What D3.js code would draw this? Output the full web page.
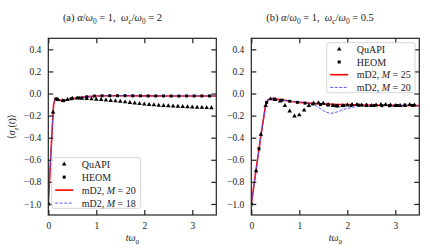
<!DOCTYPE html>
<html><head><meta charset="utf-8">
<script src="https://cdn.jsdelivr.net/npm/d3@7"></script>
<style>body{margin:0;background:#fff}svg{display:block} text{white-space:pre}</style>
</head><body>
<svg id="c" width="430" height="251"></svg>
<script>
// ---------- DATA ----------
const xTicks = [0, 1, 2, 3];
const yTicks = [-1.0, -0.8, -0.6, -0.4, -0.2, 0.0, 0.2, 0.4];

// Panel (a)
const tA_line = [0,0.03,0.06,0.083,0.11,0.14,0.18,0.25,0.33,0.4,0.5,0.6,0.7,0.85,1.0,1.3,1.6,2.0,2.5,3.0,3.5];
const redA    = [-1.0,-0.75,-0.5,-0.31,-0.1,-0.048,-0.05,-0.06,-0.065,-0.055,-0.045,-0.04,-0.035,-0.028,-0.022,-0.02,-0.02,-0.021,-0.022,-0.023,-0.022];
const blueA   = [-1.0,-0.74,-0.49,-0.3,-0.09,-0.047,-0.05,-0.06,-0.064,-0.055,-0.046,-0.04,-0.034,-0.027,-0.022,-0.021,-0.02,-0.022,-0.022,-0.022,-0.021];
const tA_quapi = [0,0.1,0.2,0.3,0.4,0.5,0.6,0.7,0.8,0.9,1.0,1.1,1.2,1.3,1.4,1.5,1.6,1.7,1.8,1.9,2.0,2.1,2.2,2.3,2.4,2.5,2.6,2.7,2.8,2.9,3.0,3.1,3.2,3.3,3.4];
const quapiA   = [-1.0,-0.17,-0.055,-0.065,-0.055,-0.045,-0.042,-0.045,-0.047,-0.05,-0.053,-0.056,-0.06,-0.064,-0.068,-0.072,-0.077,-0.082,-0.087,-0.092,-0.096,-0.1,-0.104,-0.107,-0.11,-0.113,-0.115,-0.117,-0.119,-0.121,-0.123,-0.125,-0.127,-0.129,-0.131];
const tA_heom = [0,0.16,0.32,0.48,0.64,0.8,0.96,1.12,1.28,1.44,1.6,1.76,1.92,2.08,2.24,2.4,2.56,2.72,2.88,3.04,3.2,3.36];
const heomA   = [-1.0,-0.048,-0.065,-0.047,-0.04,-0.03,-0.023,-0.021,-0.02,-0.02,-0.02,-0.021,-0.021,-0.022,-0.022,-0.022,-0.023,-0.023,-0.022,-0.022,-0.022,-0.022];

// Panel (b)
const tB_red = [0,0.1,0.2,0.3,0.35,0.42,0.5,0.6,0.7,0.85,1.0,1.2,1.4,1.6,1.8,2.0,2.3,2.6,3.0,3.5];
const redB   = [-1.0,-0.69,-0.38,-0.1,-0.055,-0.045,-0.048,-0.055,-0.062,-0.072,-0.08,-0.087,-0.092,-0.096,-0.099,-0.101,-0.104,-0.106,-0.108,-0.11];
const tB_blue = [0,0.1,0.2,0.3,0.35,0.42,0.5,0.6,0.7,0.85,1.0,1.1,1.2,1.3,1.4,1.5,1.6,1.7,1.8,1.9,2.0,2.2,2.4,2.7,3.0,3.5];
const blueB   = [-1.0,-0.7,-0.39,-0.11,-0.06,-0.047,-0.05,-0.057,-0.063,-0.07,-0.075,-0.08,-0.088,-0.1,-0.125,-0.155,-0.175,-0.178,-0.165,-0.148,-0.135,-0.118,-0.108,-0.103,-0.105,-0.11];
const tB_quapi = [0,0.1,0.2,0.3,0.4,0.5,0.6,0.7,0.8,0.9,1.0,1.1,1.2,1.3,1.4,1.5,1.6,1.7,1.8,1.9,2.0,2.1,2.2,2.3,2.4,2.5,2.6,2.7,2.8,2.9,3.0,3.1,3.2,3.3,3.4];
const quapiB   = [-1.0,-0.7,-0.37,-0.11,-0.05,-0.055,-0.07,-0.11,-0.16,-0.205,-0.195,-0.15,-0.11,-0.09,-0.085,-0.09,-0.1,-0.11,-0.115,-0.11,-0.105,-0.1,-0.1,-0.105,-0.11,-0.11,-0.105,-0.1,-0.1,-0.105,-0.11,-0.11,-0.105,-0.1,-0.105];
const tB_heom = [0,0.16,0.32,0.48,0.64,0.8,0.96,1.12,1.28,1.44,1.6,1.76,1.92,2.08,2.24,2.4,2.56,2.72,2.88,3.04,3.2,3.36];
const heomB   = [-1.0,-0.5,-0.08,-0.05,-0.06,-0.07,-0.08,-0.087,-0.095,-0.1,-0.105,-0.11,-0.11,-0.108,-0.105,-0.105,-0.108,-0.11,-0.11,-0.108,-0.107,-0.108];

const legendA = ["QuAPI", "HEOM", "mD2, M = 20", "mD2, M = 18"];
const legendB = ["QuAPI", "HEOM", "mD2, M = 25", "mD2, M = 20"];

// ---------- DRAW ----------
const svg = d3.select("#c");
const FONT = "'Liberation Serif', 'DejaVu Serif', serif";
const RED = "#ff0000", BLUE = "#5555ff", INK = "#222";

function math(t, parts, fs) {
  let sh = 0;
  parts.forEach(([txt, st]) => {
    const ts = t.append("tspan").text(txt);
    if (st.includes("i")) ts.attr("font-style", "italic");
    if (st.includes("s")) {
      ts.attr("font-size", fs * 0.7).attr("dy", fs * 0.3 - sh); sh = fs * 0.3;
    } else if (sh) { ts.attr("dy", -sh); sh = 0; }
  });
}

const y = d3.scaleLinear().domain([-1.1, 0.5]).range([215, 38.3]);

function panel(id, left, title, titleX, tQ, vQ, tH, vH, tR, vR, tBl, vBl, legendLabels, leg) {
  const x = d3.scaleLinear().domain([0, 3.5]).range([left, left + 168]);
  const g = svg.append("g");
  const cp = "clip" + id;
  svg.append("clipPath").attr("id", cp).append("rect")
    .attr("x", left).attr("y", 38.3).attr("width", 168).attr("height", 215 - 38.3);
  const plot = g.append("g").attr("clip-path", `url(#${cp})`);

  const line = d3.line().x(d => x(d[0])).y(d => y(d[1]));
  plot.append("path").datum(d3.zip(tR, vR)).attr("d", line)
    .attr("fill", "none").attr("stroke", RED).attr("stroke-width", 1.6);
  plot.append("path").datum(d3.zip(tBl, vBl)).attr("d", line)
    .attr("fill", "none").attr("stroke", BLUE).attr("stroke-width", 1.0)
    .attr("stroke-dasharray", "3,1.5");
  const tri = d3.symbol().type(d3.symbolTriangle).size(9);
  plot.selectAll(".q").data(d3.zip(tQ, vQ)).join("path")
    .attr("d", tri).attr("transform", d => `translate(${x(d[0])},${y(d[1])})`).attr("fill", "#000");
  plot.selectAll(".h").data(d3.zip(tH, vH)).join("rect")
    .attr("x", d => x(d[0]) - 1.5).attr("y", d => y(d[1]) - 1.5)
    .attr("width", 3).attr("height", 3).attr("fill", "#000");

  // frame + ticks
  g.append("rect").attr("x", left).attr("y", 38.3).attr("width", 168).attr("height", 215 - 38.3)
    .attr("fill", "none").attr("stroke", INK).attr("stroke-width", 1.2);
  const gb = g.append("g").attr("transform", "translate(0,215)")
    .call(d3.axisBottom(x).tickValues(xTicks).tickSize(-5).tickPadding(7).tickFormat(d3.format("d")));
  const gt = g.append("g").attr("transform", "translate(0,38.3)")
    .call(d3.axisTop(x).tickValues(xTicks).tickSize(-5).tickFormat(""));
  const gl = g.append("g").attr("transform", `translate(${left},0)`)
    .call(d3.axisLeft(y).tickValues(yTicks).tickSize(-5).tickPadding(7).tickFormat(d => d3.format(".1f")(d).replace("-", "−")));
  const gr = g.append("g").attr("transform", `translate(${left + 168},0)`)
    .call(d3.axisRight(y).tickValues(yTicks).tickSize(-5).tickFormat(""));
  [gb, gt, gl, gr].forEach(a => {
    a.attr("font-family", FONT);
    a.select(".domain").remove();
    a.selectAll("line").attr("stroke", INK).attr("stroke-width", 1.2);
    a.selectAll("text").attr("font-family", FONT).attr("font-size", 9.5).attr("fill", "#222");
  });
  gb.selectAll("text").attr("dy", "0.71em");

  // title
  const tt = g.append("text").attr("x", titleX).attr("y", 21).attr("text-anchor", "middle")
    .attr("font-family", FONT).attr("font-size", 10.5).attr("fill", "#222");
  math(tt, title, 10.5);

  // x label
  const xl = g.append("text").attr("x", left + 84).attr("y", 241).attr("text-anchor", "middle")
    .attr("font-family", FONT).attr("font-size", 10).attr("fill", "#222");
  math(xl, [["t", "i"], ["ω", "i"], ["0", "s"]], 10);

  // legend
  const lg = g.append("g");
  lg.append("rect").attr("x", leg.x).attr("y", leg.y).attr("width", leg.w).attr("height", leg.h)
    .attr("rx", 2).attr("fill", "#fff").attr("fill-opacity", 0.8)
    .attr("stroke", "#cccccc").attr("stroke-width", 0.8);
  legendLabels.forEach((lab, i) => {
    const cy = leg.y + leg.first + i * leg.step;
    const hx0 = leg.x + 3.5, hx1 = leg.x + 21.5, hm = (hx0 + hx1) / 2;
    if (i === 0) lg.append("path").attr("d", tri).attr("transform", `translate(${hm},${cy})`).attr("fill", "#000");
    if (i === 1) lg.append("rect").attr("x", hm - 1.5).attr("y", cy - 1.5).attr("width", 3).attr("height", 3).attr("fill", "#000");
    if (i === 2) lg.append("line").attr("x1", hx0).attr("x2", hx1).attr("y1", cy).attr("y2", cy).attr("stroke", RED).attr("stroke-width", 1.6);
    if (i === 3) lg.append("line").attr("x1", hx0).attr("x2", hx1).attr("y1", cy).attr("y2", cy).attr("stroke", BLUE).attr("stroke-width", 1.0).attr("stroke-dasharray", "3,1.5");
    const tx = lg.append("text").attr("x", leg.x + 30).attr("y", cy).attr("dy", "0.35em")
      .attr("font-family", FONT).attr("font-size", 10).attr("fill", "#222");
    if (i < 2) tx.text(lab);
    else {
      const m = lab.split("M");
      math(tx, [[m[0], ""], ["M", "i"], [m[1], ""]], 10);
    }
  });
}

panel("a", 48.3,
  [["(a) ", ""], ["α", "i"], ["/", ""], ["ω", "i"], ["0", "s"], [" = 1,  ", ""], ["ω", "i"], ["c", "is"], ["/", ""], ["ω", "i"], ["0", "s"], [" = 2", ""]],
  112.5, tA_quapi, quapiA, tA_heom, heomA, tA_line, redA, tA_line, blueA, legendA,
  {x: 51.7, y: 157.7, w: 89, h: 50.6, first: 6.4, step: 13});

panel("b", 251.3,
  [["(b) ", ""], ["α", "i"], ["/", ""], ["ω", "i"], ["0", "s"], [" = 1,  ", ""], ["ω", "i"], ["c", "is"], ["/", ""], ["ω", "i"], ["0", "s"], [" = 0.5", ""]],
  320, tB_quapi, quapiB, tB_heom, heomB, tB_red, redB, tB_blue, blueB, legendB,
  {x: 326.7, y: 42.7, w: 88.3, h: 50, first: 6.6, step: 12.7});

// y label
const yl = svg.append("text").attr("transform", "translate(15,126.7) rotate(-90)")
  .attr("text-anchor", "middle").attr("font-family", FONT).attr("font-size", 10).attr("fill", "#222");
math(yl, [["⟨", ""], ["σ", "i"], ["z", "is"], ["(", ""], ["t", "i"], [")", ""], ["⟩", ""]], 10);
</script>
</body></html>
